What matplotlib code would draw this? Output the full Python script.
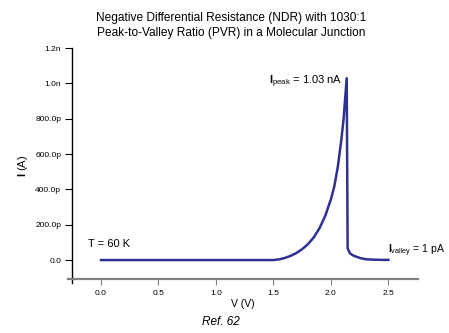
import numpy as np
import matplotlib
matplotlib.use('Agg')
import matplotlib.pyplot as plt

plt.rcParams['font.family'] = ['Liberation Sans', 'DejaVu Sans']
plt.rcParams['mathtext.fontset'] = 'custom'
plt.rcParams['mathtext.rm'] = 'Liberation Sans'
plt.rcParams['mathtext.bf'] = 'Liberation Sans:bold'
plt.rcParams['mathtext.it'] = 'Liberation Sans:italic'

# Dane (prad w nA)
napiecie = [0.00, 1.50, 1.55, 1.60, 1.65, 1.70, 1.75, 1.80, 1.85, 1.90, 1.95,
            2.00, 2.03, 2.06, 2.09, 2.11, 2.137, 2.145, 2.165, 2.19, 2.22,
            2.26, 2.31, 2.38, 2.45, 2.50]
prad = [0.000, 0.000, 0.004, 0.012, 0.024, 0.040, 0.062, 0.090, 0.128, 0.180,
        0.250, 0.345, 0.420, 0.530, 0.680, 0.800, 1.030, 0.066, 0.038, 0.027,
        0.019, 0.010, 0.004, 0.002, 0.001, 0.001]

yticks = [0.0, 0.2, 0.4, 0.6, 0.8, 1.0, 1.2]
yticklabels = ['0.0', '200.0p', '400.0p', '600.0p', '800.0p', '1.0n', '1.2n']
xticks = [0.0, 0.5, 1.0, 1.5, 2.0, 2.5]
xticklabels = ['0.0', '0.5', '1.0', '1.5', '2.0', '2.5']

fig = plt.figure(figsize=(4.49, 3.33), dpi=100)
ax = fig.add_axes([68 / 449, 50 / 333, 350 / 449, 235 / 333])

ax.plot(napiecie, prad, color='#2e3192', lw=1.8)

ax.set_xlim(-0.287, 2.757)
ax.set_ylim(-0.130, 1.201)

ax.spines['top'].set_visible(False)
ax.spines['right'].set_visible(False)
ax.spines['left'].set_position(('data', -0.25))
ax.spines['left'].set_linewidth(1.0)
ax.spines['bottom'].set_position(('data', -0.108))
ax.spines['bottom'].set_color('#808080')
ax.spines['bottom'].set_linewidth(1.6)

ax.set_yticks(yticks)
ax.set_yticklabels(yticklabels)
ax.set_xticks(xticks)
ax.set_xticklabels(xticklabels)
ax.tick_params(axis='y', length=5, width=0.8, labelsize=6, pad=3)
ax.tick_params(axis='x', length=4, width=0.8, color='#808080', labelsize=6, pad=4)

ax.set_xlabel('V (V)', fontsize=7.5, labelpad=1)
ax.set_ylabel(r'$\mathbf{I}$ (A)', fontsize=8, labelpad=4)

ax.text(-0.11, 0.075, 'T = 60 K', fontsize=8)
ax.text(2.10, 1.01, r'$\mathbf{I}_{\mathrm{peak}}$ = 1.03 nA', fontsize=8, ha='right', va='center')
ax.text(2.50, 0.05, r'$\mathbf{I}_{\mathrm{valley}}$ = 1 pA', fontsize=7.5, ha='left', va='center', clip_on=False)

fig.text(231.5 / 449, 1 - 18 / 333, 'Negative Differential Resistance (NDR) with 1030:1',
         fontsize=8.6, ha='center', va='center')
fig.text(231.5 / 449, 1 - 33 / 333, 'Peak-to-Valley Ratio (PVR) in a Molecular Junction',
         fontsize=8.6, ha='center', va='center')
fig.text(221 / 449, 1 - 322 / 333, 'Ref. 62', fontsize=8.5, style='italic', ha='center', va='center')

fig.savefig('out.png', dpi=100)
